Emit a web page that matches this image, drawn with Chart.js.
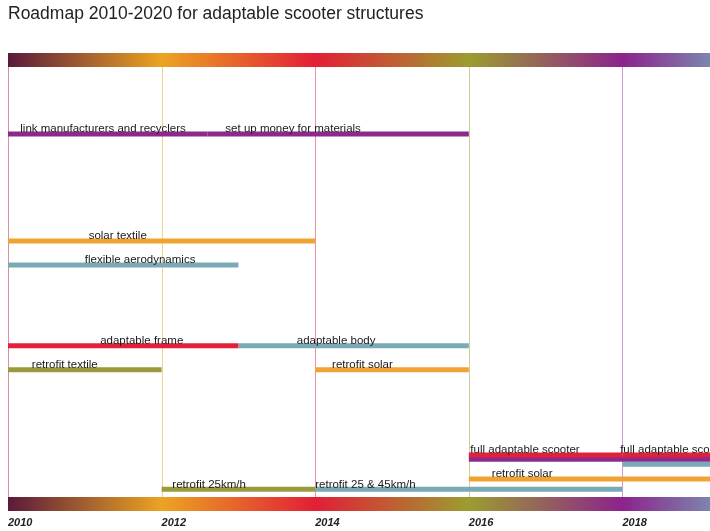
<!DOCTYPE html>
<html>
<head>
<meta charset="utf-8">
<script src="https://cdn.jsdelivr.net/npm/chart.js@4"></script>
<style>
  html, body { margin: 0; padding: 0; background: #fff; }
  #wrap { position: relative; width: 710px; height: 531px; }
  h1 { position: absolute; left: 8px; top: 3px; margin: 0; font: 17.5px 'Liberation Sans', sans-serif; color: #222; }
</style>
</head>
<body>
<div id="wrap">
  <h1>Roadmap 2010-2020 for adaptable scooter structures</h1>
  <canvas id="roadmap" width="710" height="531"></canvas>
</div>
<script>
const years = [2010, 2012, 2014, 2016, 2018];
const yearLineColors = ['#dc8fa0', '#f5d183', '#f0909e', '#cfcf98', '#cf97cf'];

// one entry per bar segment
const taskLabels = ['link manufacturers and recyclers', 'set up money for materials', 'solar textile', 'flexible aerodynamics',
  'adaptable frame', 'adaptable body', 'retrofit textile', 'retrofit solar',
  'full adaptable scooter', 'full adaptable scooter', '', '', 'retrofit solar', 'retrofit 25km/h', 'retrofit 25 & 45km/h'];
const taskStart = [2010, 2012.6, 2010, 2010, 2010, 2013, 2010, 2014, 2016, 2018, 2016, 2018, 2016, 2012, 2014];
const taskEnd = [2012.6, 2016, 2014, 2013, 2013, 2016, 2012, 2016, 2018, 2019.3, 2019.3, 2019.3, 2019.3, 2014, 2018];
const taskLane = [3.375, 3.375, 7.83, 8.83, 12.2, 12.2, 13.2, 13.2, 16.75, 16.75, 16.92, 17.13, 17.75, 18.17, 18.17];
const taskLabelAt = [2010.16, 2012.83, 2011.05, 2011.0, 2011.2, 2013.76, 2010.31, 2014.22, 2016.02, 2017.97, 0, 0, 2016.3, 2012.14, 2014.0];
const taskTheme = ['purple', 'purple', 'orange', 'teal', 'red', 'teal', 'olive', 'orange', 'red', 'red', 'purple', 'teal', 'orange', 'olive', 'teal'];

const palette = { purple: '#8b2a8c', orange: '#f0a332', teal: '#7aaab6', red: '#e2203a', olive: '#9a9a3c' };

const datasets = taskStart.map((s, i) => ({
  data: [{ x: s, y: taskLane[i] }, { x: taskEnd[i], y: taskLane[i] }],
  borderColor: palette[taskTheme[i]],
  borderWidth: 5,
  borderCapStyle: 'butt',
  pointRadius: 0,
  fill: false
}));

const gradientStops = [[2010, '#5a1a3c'], [2012, '#eba422'], [2014, '#e21f36'], [2016, '#9c9c30'], [2018, '#8c238c'], [2019.3, '#7a92b2']];

const decor = {
  id: 'decor',
  beforeDatasetsDraw(chart) {
    const { ctx, chartArea: a, scales: { x } } = chart;
    ctx.save();
    // year lines
    years.forEach((yr, i) => {
      const px = Math.round(x.getPixelForValue(yr)) + 0.5;
      ctx.strokeStyle = yearLineColors[i];
      ctx.lineWidth = 1;
      ctx.beginPath(); ctx.moveTo(px, a.top); ctx.lineTo(px, a.bottom); ctx.stroke();
    });
    // gradient bands
    const g = ctx.createLinearGradient(x.getPixelForValue(2010), 0, x.getPixelForValue(2019.3), 0);
    gradientStops.forEach(([v, c]) => g.addColorStop((v - 2010) / 9.3, c));
    ctx.fillStyle = g;
    ctx.fillRect(a.left, a.top, a.right - a.left, 14);
    ctx.fillRect(a.left, a.bottom - 14, a.right - a.left, 14);
    // year labels
    ctx.fillStyle = '#222';
    ctx.font = 'italic bold 11px "Liberation Sans", sans-serif';
    ctx.textBaseline = 'middle';
    years.forEach(yr => ctx.fillText(String(yr), x.getPixelForValue(yr), a.bottom + 12));
    ctx.restore();
  },
  afterDatasetsDraw(chart) {
    const { ctx, scales: { x, y } } = chart;
    ctx.save();
    ctx.fillStyle = '#1a1a1a';
    ctx.font = '11.5px "Liberation Sans", sans-serif';
    ctx.textBaseline = 'bottom';
    taskLabels.forEach((t, i) => {
      if (!t) return;
      ctx.fillText(t, x.getPixelForValue(taskLabelAt[i]), y.getPixelForValue(taskLane[i]) + 1);
    });
    ctx.restore();
  }
};

new Chart(document.getElementById('roadmap'), {
  type: 'line',
  data: { datasets },
  options: {
    responsive: false,
    animation: false,
    layout: { padding: { left: 8, right: 0, top: 53, bottom: 20 } },
    scales: {
      x: { type: 'linear', min: 2010, max: 2019.14, display: false },
      y: { type: 'linear', min: 0, max: 19.08, reverse: true, display: false }
    },
    plugins: { legend: { display: false }, tooltip: { enabled: false } }
  },
  plugins: [decor]
});
</script>
</body>
</html>
